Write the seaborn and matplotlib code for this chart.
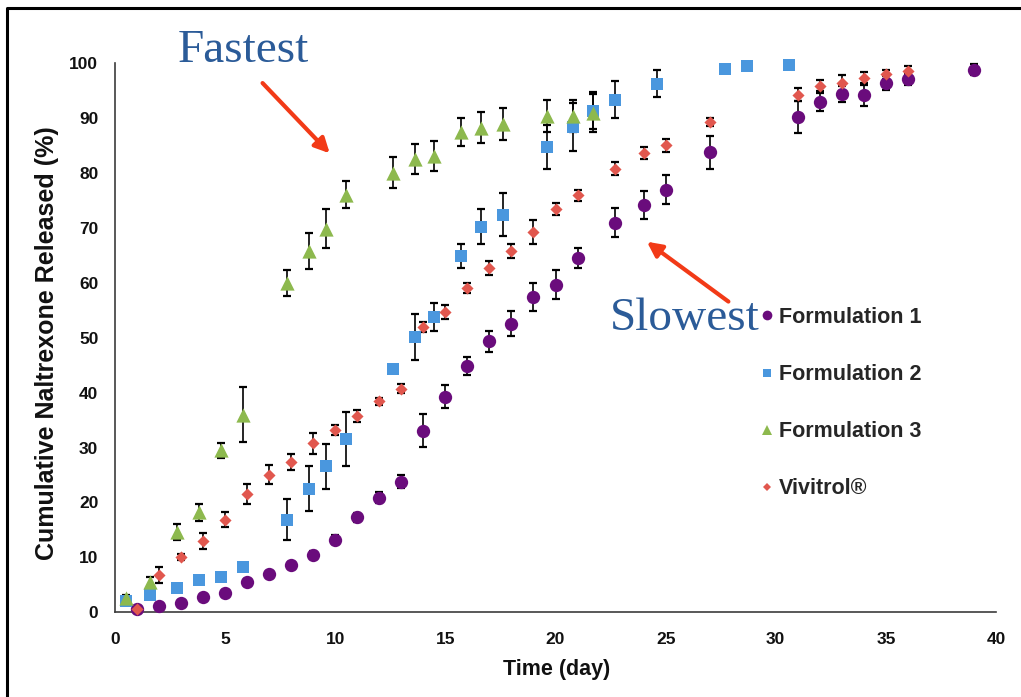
import matplotlib
matplotlib.use("Agg")
import matplotlib.pyplot as plt
from matplotlib.lines import Line2D
import numpy as np
import pandas as pd
import seaborn as sns

# ---- data -------------------------------------------------------------
# Formulation 1 and Vivitrol were sampled on the same days
f1_day = [1, 2, 3, 4, 5, 6, 7, 8, 9, 10, 11, 12, 13, 14, 15, 16, 17, 18, 19, 20,
          21, 22.7, 24, 25, 27, 31, 32, 33, 34, 35, 36, 39]
f1_pct = [0.6, 1.1, 1.7, 2.7, 3.5, 5.5, 6.9, 8.6, 10.5, 13.2, 17.3, 20.9, 23.8,
          33.1, 39.3, 44.9, 49.4, 52.6, 57.4, 59.7, 64.6, 71.0, 74.2, 77.0, 83.8,
          90.2, 93.0, 94.4, 94.2, 96.4, 97.1, 98.8]
f1_sd = [0.4, 0.4, 0.4, 0.5, 0.5, 0.6, 0.5, 0.6, 0.6, 0.8, 0.8, 1.0, 1.2, 3.0,
         2.1, 1.6, 1.9, 2.3, 2.6, 2.6, 1.8, 2.6, 2.6, 2.6, 3.0, 2.9, 1.6, 1.5,
         1.9, 1.2, 1.0, 1.0]

viv_day = [1, 2, 3, 4, 5, 6, 7, 8, 9, 10, 11, 12, 13, 14, 15, 16, 17, 18, 19, 20,
           21, 22.7, 24, 25, 27, 31, 32, 33, 34, 35, 36]
viv_pct = [0.6, 6.8, 10.1, 13.0, 16.9, 21.5, 25.1, 27.4, 30.8, 33.2, 35.8, 38.4,
           40.7, 52.0, 54.7, 59.0, 62.7, 65.8, 69.3, 73.4, 76.0, 80.8, 83.6, 85.1,
           89.3, 94.3, 95.9, 96.4, 97.4, 98.0, 98.6]
viv_sd = [0.3, 1.4, 0.5, 1.4, 1.3, 1.8, 1.7, 1.5, 1.9, 0.85, 1.1, 0.7, 0.8, 0.9,
          1.3, 0.9, 1.3, 1.2, 2.2, 1.1, 1.0, 1.2, 1.1, 1.2, 0.7, 1.2, 1.0, 1.5,
          1.0, 0.8, 0.9]

# Formulations 2 and 3 share their sampling days
f2_day = [0.5, 1.6, 2.8, 3.8, 4.8, 5.8, 7.8, 8.8, 9.6, 10.5, 12.6, 13.6, 14.5,
          15.7, 16.6, 17.6, 19.6, 20.8, 21.7, 22.7, 24.6, 27.7, 28.7, 30.6]
f2_pct = [2.0, 3.2, 4.5, 5.8, 6.5, 8.2, 16.9, 22.5, 26.6, 31.6, 44.4, 50.1, 53.8,
          64.9, 70.2, 72.4, 84.8, 88.4, 91.4, 93.4, 96.3, 99.0, 99.5, 99.6]
f2_sd = [0.4, 0.4, 0.4, 0.4, 0.5, 0.5, 3.65, 4.1, 4.1, 4.9, 0.6, 4.2, 2.5, 2.1,
         3.2, 3.9, 4.0, 4.3, 3.3, 3.3, 2.5, 0.4, 0.4, 0.4]

f3_day = [0.5, 1.6, 2.8, 3.8, 4.8, 5.8, 7.8, 8.8, 9.6, 10.5, 12.6, 13.6, 14.5,
          15.7, 16.6, 17.6, 19.6, 20.8, 21.7]
f3_pct = [2.6, 5.5, 14.6, 18.2, 29.5, 36.0, 60.0, 65.8, 69.9, 76.1, 80.1, 82.6,
          83.1, 87.5, 88.3, 89.0, 90.4, 90.4, 90.9]
f3_sd = [0.5, 1.0, 1.4, 1.5, 1.4, 5.0, 2.4, 3.3, 3.6, 2.5, 2.8, 2.7, 2.7, 2.6,
         2.9, 2.9, 3.0, 3.0, 3.5]

series_names = ["Formulation 1", "Formulation 2", "Formulation 3", "Vivitrol®"]

frames = []
for name, d, p, e in [
    ("Formulation 1", f1_day, f1_pct, f1_sd),
    ("Formulation 2", f2_day, f2_pct, f2_sd),
    ("Formulation 3", f3_day, f3_pct, f3_sd),
    ("Vivitrol®", viv_day, viv_pct, viv_sd),
]:
    frames.append(pd.DataFrame({"series": name, "day": d, "pct": p, "sd": e}))
release = pd.concat(frames, ignore_index=True)

# ---- styling ------------------------------------------------------------
colors = {
    "Formulation 1": "#6A0C7C",
    "Formulation 2": "#4A97DE",
    "Formulation 3": "#8DB94E",
    "Vivitrol®": "#E1574E",
}
markers = {"Formulation 1": "o", "Formulation 2": "s",
           "Formulation 3": "^", "Vivitrol®": "D"}
marker_area = {"Formulation 1": 92, "Formulation 2": 72,
               "Formulation 3": 105, "Vivitrol®": 38}
legend_size = {"Formulation 1": 7.0, "Formulation 2": 5.8,
               "Formulation 3": 6.6, "Vivitrol®": 4.2}

sns.set_style("white")
plt.rcParams["font.family"] = ["Liberation Sans", "DejaVu Sans"]

fig = plt.figure(figsize=(10.21, 6.97), dpi=100)
ax = fig.add_axes([115 / 1021, 1 - 612.3 / 697, (996 - 115) / 1021, (612.3 - 63.3) / 697])

# error bars first, markers drawn over them
for name in series_names:
    sub = release[release["series"] == name]
    ax.errorbar(sub["day"], sub["pct"], yerr=sub["sd"], fmt="none",
                ecolor="black", elinewidth=1.2, capsize=3.0, capthick=1.6,
                zorder=2, clip_on=False)

for name in series_names:
    sub = release[release["series"] == name]
    sns.scatterplot(data=sub, x="day", y="pct", marker=markers[name],
                    color=colors[name], s=marker_area[name], linewidth=0,
                    ax=ax, zorder=3, clip_on=False, legend=False)

ax.set_xlim(0, 40)
ax.set_ylim(0, 100)
ax.set_xticks(np.arange(0, 41, 5))
ax.set_yticks(np.arange(0, 101, 10))

for side in ("top", "right"):
    ax.spines[side].set_visible(False)
for side in ("left", "bottom"):
    ax.spines[side].set_color("#3c3c3c")
    ax.spines[side].set_linewidth(1.2)

ax.tick_params(axis="both", direction="out", length=5, width=1.2,
               color="#3c3c3c", labelsize=12.5, labelcolor="#111111")
ax.tick_params(axis="x", pad=9)
ax.tick_params(axis="y", pad=7)
for lbl in ax.get_xticklabels() + ax.get_yticklabels():
    lbl.set_fontweight("bold")

ax.set_xlabel("Time (day)", fontsize=15.5, fontweight="bold", color="#111111")
ax.set_ylabel("Cumulative Naltrexone Released (%)", fontsize=18,
              fontweight="bold", color="#111111")
ax.xaxis.set_label_coords(0.501, -0.085)
ax.yaxis.set_label_coords(-0.063, 0.49)

# legend with small marker swatches, no frame
handles = [Line2D([], [], linestyle="none", marker=markers[n],
                  markersize=legend_size[n], color=colors[n],
                  markeredgewidth=0) for n in series_names]
ax.legend(handles, series_names, loc="upper left",
          bbox_to_anchor=((761 - 115) / 881, (612.3 - 307) / 549),
          frameon=False, handlelength=0.55, handletextpad=0.3,
          borderpad=0, borderaxespad=0, labelspacing=1.68,
          prop={"size": 15.5, "weight": "bold"})

# callouts
note_color = "#2B5B98"
arrow_color = "#F23A17"
ax.text(2.85, 100.2, "Fastest", family="Liberation Serif", fontsize=34,
        color=note_color, ha="left", va="baseline", clip_on=False)
ax.annotate("", xy=(9.75, 83.6), xytext=(6.7, 96.4),
            arrowprops=dict(arrowstyle="-|>", color=arrow_color, lw=3,
                            mutation_scale=22, shrinkA=0, shrinkB=0),
            annotation_clip=False)
ax.text(22.45, 51.5, "Slowest", family="Liberation Serif", fontsize=34,
        color=note_color, ha="left", va="baseline", clip_on=False)
ax.annotate("", xy=(24.15, 67.5), xytext=(27.85, 56.6),
            arrowprops=dict(arrowstyle="-|>", color=arrow_color, lw=3,
                            mutation_scale=22, shrinkA=0, shrinkB=0),
            annotation_clip=False)

# outer frame along the top and left edges of the figure
fig.add_artist(Line2D([7 / 1021, 7 / 1021, 1.0], [0.0, 1 - 8 / 697, 1 - 8 / 697],
                      transform=fig.transFigure, color="black", linewidth=2.2))

fig.savefig("out.png", dpi=100)
